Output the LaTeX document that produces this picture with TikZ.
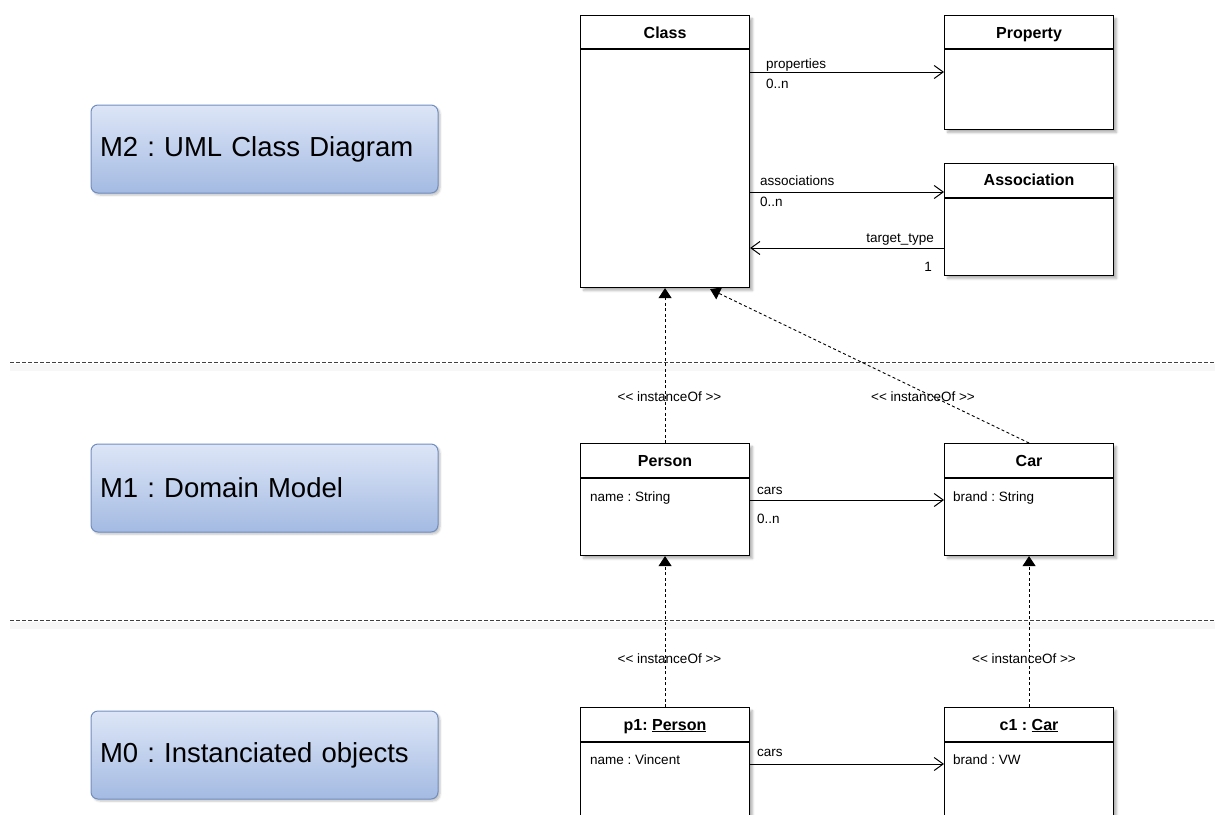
\documentclass[tikz,border=0pt]{standalone}
\usepackage{fontspec}
\setmainfont{Liberation Sans}
\usetikzlibrary{arrows.meta,shadows.blur,calc}
\definecolor{mtop}{RGB}{221,230,247}
\definecolor{mbot}{RGB}{164,186,226}
\definecolor{mborder}{RGB}{112,142,192}
\newcommand\smallfnt{\fontsize{13.5}{16}\selectfont}
\newcommand\titlefnt{\fontsize{16}{19}\selectfont\bfseries}
\newcommand\bigfnt{\fontsize{27.5}{33}\selectfont}
\newcommand\ltlt{<\kern0pt<}
\newcommand\gtgt{>\kern0pt>}
\frenchspacing
\begin{document}
\begin{tikzpicture}[x=1pt,y=-1pt,
  cls/.style={draw=black, fill=white, line width=1.1pt, anchor=north west, inner sep=0pt,
    minimum width=169pt,
    blur shadow={shadow xshift=3pt, shadow yshift=-3pt, shadow blur steps=6, shadow opacity=30}},
  hdr/.style={line width=1.1pt},
  ttl/.style={font=\titlefnt, anchor=base, inner sep=0pt},
  lbl/.style={font=\smallfnt, inner sep=0pt},
  assoc/.style={line width=1pt, -{Straight Barb[length=9pt,width=13pt,line width=1pt]}},
  inst/.style={line width=0.9pt, dash pattern=on 3pt off 2.5pt, -{Triangle[length=10pt,width=13pt]}},
  sepline/.style={line width=1pt, dash pattern=on 4pt off 2pt, black!75},
  mbox/.style={draw=mborder, line width=1pt, rounded corners=7pt, top color=mtop, bottom color=mbot,
    minimum width=347pt, minimum height=88pt, text width=329pt, align=left, inner xsep=9pt,
    font=\bigfnt,
    blur shadow={shadow xshift=2pt, shadow yshift=-2pt, shadow blur steps=5, shadow opacity=25}}
]
\useasboundingbox (0,0) rectangle (1215,814);
\clip (0,0) rectangle (1215,814);

% level separators
\fill[black!3] (10,364) rectangle (1215,371);
\fill[black!3] (10,622) rectangle (1215,629);
\draw[sepline] (10,362) -- (1215,362);
\draw[sepline] (10,620) -- (1215,620);

% level labels
\node[mbox] (m2) at (264.5,149) {M2 : UML Class Diagram};
\node[mbox] (m1) at (264.5,488) {M1 : Domain Model};
\node[mbox] (m0) at (264.5,755) {M0 : Instanciated objects};

% M2 classes
\node[cls, minimum height=272pt] (class) at (580,15) {};
\draw[hdr] ($(class.north west)+(0,34)$) -- ($(class.north east)+(0,34)$);
\node[ttl] (classT) at ($(class.north)+(0,23)$) {Class};

\node[cls, minimum height=114pt] (prop) at (944,15) {};
\draw[hdr] ($(prop.north west)+(0,34)$) -- ($(prop.north east)+(0,34)$);
\node[ttl] (propT) at ($(prop.north)+(0,23)$) {Property};

\node[cls, minimum height=112pt] (assoc) at (944,163) {};
\draw[hdr] ($(assoc.north west)+(0,35)$) -- ($(assoc.north east)+(0,35)$);
\node[ttl] (assocT) at ($(assoc.north)+(0,22)$) {Association};

\draw[assoc] ($(class.north east)+(0,57)$) -- ($(prop.north west)+(0,57)$);
\node[lbl, anchor=base west] (lp1) at (766,68) {properties};
\node[lbl, anchor=base west] (lp2) at (766,88) {0..n};

\draw[assoc] ($(class.north east)+(0,177)$) -- ($(assoc.north west)+(0,29)$);
\node[lbl, anchor=base west] (la1) at (760,185) {associations};
\node[lbl, anchor=base west] (la2) at (760,206) {0..n};

\draw[assoc] ($(assoc.north west)+(0,85)$) -- ($(class.north east)+(0,233)$);
\node[lbl, anchor=base east] (lt1) at (934,242) {target\_type};
\node[lbl, anchor=base east] (lt2) at (932,271) {1};

% M1 classes
\node[cls, minimum height=112pt] (person) at (580,443) {};
\draw[hdr] ($(person.north west)+(0,35)$) -- ($(person.north east)+(0,35)$);
\node[ttl] (personT) at ($(person.north)+(0,23)$) {Person};
\node[lbl, anchor=base west] (personA) at ($(person.north west)+(10,58)$) {name : String};

\node[cls, minimum height=112pt] (car) at (944,443) {};
\draw[hdr] ($(car.north west)+(0,35)$) -- ($(car.north east)+(0,35)$);
\node[ttl] (carT) at ($(car.north)+(0,23)$) {Car};
\node[lbl, anchor=base west] (carA) at ($(car.north west)+(9,58)$) {brand : String};

\draw[assoc] ($(person.north west)+(169,57)$) -- ($(car.north west)+(0,57)$);
\node[lbl, anchor=base west] (lc1) at (757,494) {cars};
\node[lbl, anchor=base west] (lc2) at (757,523) {0..n};

% M0 objects
\node[cls, minimum height=130pt] (p1) at (580,707) {};
\draw[hdr] ($(p1.north west)+(0,35)$) -- ($(p1.north east)+(0,35)$);
\node[ttl] (p1T) at ($(p1.north)+(0,23)$) {p1: \underline{Person}};
\node[lbl, anchor=base west] (p1A) at ($(p1.north west)+(10,57)$) {name : Vincent};

\node[cls, minimum height=130pt] (c1) at (944,707) {};
\draw[hdr] ($(c1.north west)+(0,35)$) -- ($(c1.north east)+(0,35)$);
\node[ttl] (c1T) at ($(c1.north)+(0,23)$) {c1 : \underline{Car}};
\node[lbl, anchor=base west] (c1A) at ($(c1.north west)+(9,57)$) {brand : VW};

\draw[assoc] ($(p1.north west)+(169,57)$) -- ($(c1.north west)+(0,57)$);
\node[lbl, anchor=base west] (lo1) at (757,756) {cars};

% instanceOf relations
\draw[inst] (person.north) -- (class.south);
\draw[inst] (car.north) -- ($(class.south east)+(-40,1)$);
\draw[inst] (p1.north) -- (person.south);
\draw[inst] (c1.north) -- (car.south);
\node[lbl] (i1) at (669.5,397) {\ltlt{} instanceOf \gtgt};
\node[lbl] (i2) at (923,397) {\ltlt{} instanceOf \gtgt};
\node[lbl] (i3) at (669.5,659) {\ltlt{} instanceOf \gtgt};
\node[lbl] (i4) at (1024,659) {\ltlt{} instanceOf \gtgt};
\end{tikzpicture}
\end{document}
